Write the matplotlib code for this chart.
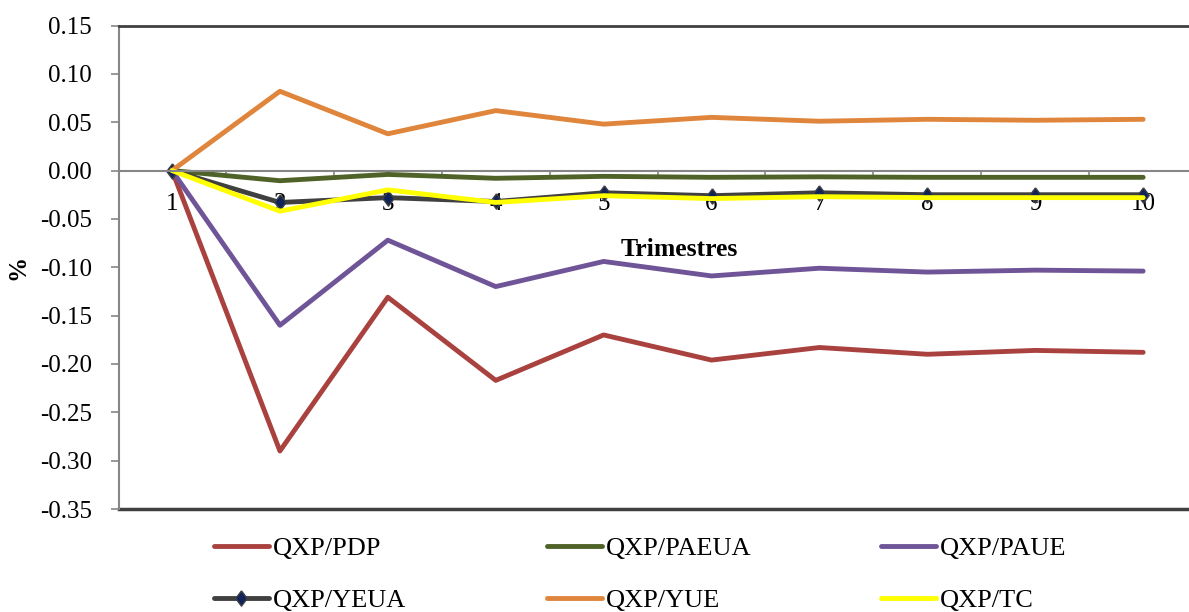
import numpy as np
from matplotlib import pyplot as plt

plt.rcParams['font.family'] = ['Liberation Serif', 'DejaVu Serif']
plt.rcParams['axes.unicode_minus'] = False

trimestres = [1, 2, 3, 4, 5, 6, 7, 8, 9, 10]
pdp = [0.0, -0.290, -0.131, -0.217, -0.170, -0.196, -0.183, -0.190, -0.186, -0.188]
paeua = [0.0, -0.0105, -0.004, -0.008, -0.006, -0.007, -0.0065, -0.007, -0.007, -0.007]
paue = [0.0, -0.160, -0.072, -0.120, -0.094, -0.109, -0.101, -0.105, -0.103, -0.104]
yeua = [0.0, -0.033, -0.028, -0.032, -0.023, -0.026, -0.023, -0.025, -0.025, -0.025]
yue = [0.0, 0.082, 0.038, 0.062, 0.048, 0.055, 0.051, 0.053, 0.052, 0.053]
tc = [0.0, -0.042, -0.020, -0.033, -0.026, -0.029, -0.027, -0.028, -0.028, -0.028]

fig = plt.figure(figsize=(11.89, 6.12), dpi=100)
ax = fig.add_axes([118.5 / 1189, 1 - 509 / 612, 1 - 118.5 / 1189, (509 - 25.5) / 612])

diamond = [(0, 1), (0.75, 0), (0, -1), (-0.75, 0), (0, 1)]
lw = 3.5
l_pdp, = ax.plot(trimestres, pdp, color='#A9423F', lw=lw, solid_capstyle='round')
l_paeua, = ax.plot(trimestres, paeua, color='#4F6228', lw=lw, solid_capstyle='round')
l_paue, = ax.plot(trimestres, paue, color='#6F5597', lw=lw, solid_capstyle='round')
l_yeua, = ax.plot(trimestres, yeua, color='#404040', lw=lw, marker=diamond, ms=11,
                  mfc='#10245A', mec='#404040', mew=1, solid_capstyle='round')
l_yue, = ax.plot(trimestres, yue, color='#E0853C', lw=lw, solid_capstyle='round')
l_tc, = ax.plot(trimestres, tc, color='#FFFF00', lw=lw, solid_capstyle='round')

ax.set_xlim(0.504, 10.425)
ax.set_ylim(-0.35, 0.15)
ax.set_yticks(np.round(np.arange(-0.35, 0.151, 0.05), 2) + 0.0)
ax.yaxis.set_major_formatter(plt.FormatStrFormatter('%.2f'))
ax.tick_params(axis='y', labelsize=18, length=6, width=1.2, color='#868686', pad=13)

ax.spines['bottom'].set_position(('data', 0))
ax.spines['bottom'].set_color('#868686')
ax.spines['bottom'].set_linewidth(1.5)
ax.spines['left'].set_color('#868686')
ax.spines['left'].set_linewidth(1.5)
ax.spines['top'].set_color('#404040')
ax.spines['top'].set_linewidth(2)
ax.spines['right'].set_visible(False)
ax.axhline(-0.35, color='#404040', lw=2.5, clip_on=False, zorder=1.5)

ax.set_xticks(np.arange(1.5, 10, 1))
ax.set_xticklabels([])
ax.set_xticks(trimestres, minor=True)
ax.set_xticklabels([str(t) for t in trimestres], minor=True)
ax.tick_params(axis='x', which='major', direction='out', length=4, width=1.2, color='#868686')
ax.tick_params(axis='x', which='minor', length=0, labelsize=18, pad=16.5)

ax.set_ylabel('%', fontsize=18, fontweight='bold', labelpad=8)
ax.text(0.5236, 0.5357, 'Trimestres', transform=ax.transAxes, fontsize=18.5,
        fontweight='bold', ha='center', va='center')

cols = [([l_pdp, l_yeua], ['QXP/PDP', 'QXP/YEUA'], 214),
        ([l_paeua, l_yue], ['QXP/PAEUA', 'QXP/YUE'], 547),
        ([l_paue, l_tc], ['QXP/PAUE', 'QXP/TC'], 881)]
for handles, labels, xpix in cols:
    fig.legend(handles, labels, loc='upper left',
               bbox_to_anchor=(xpix / 1189, 1 - 537 / 612), frameon=False,
               fontsize=19, handlelength=2.08, handletextpad=0.15,
               labelspacing=1.06, borderpad=0, borderaxespad=0)

fig.savefig('out.png', dpi=100)
